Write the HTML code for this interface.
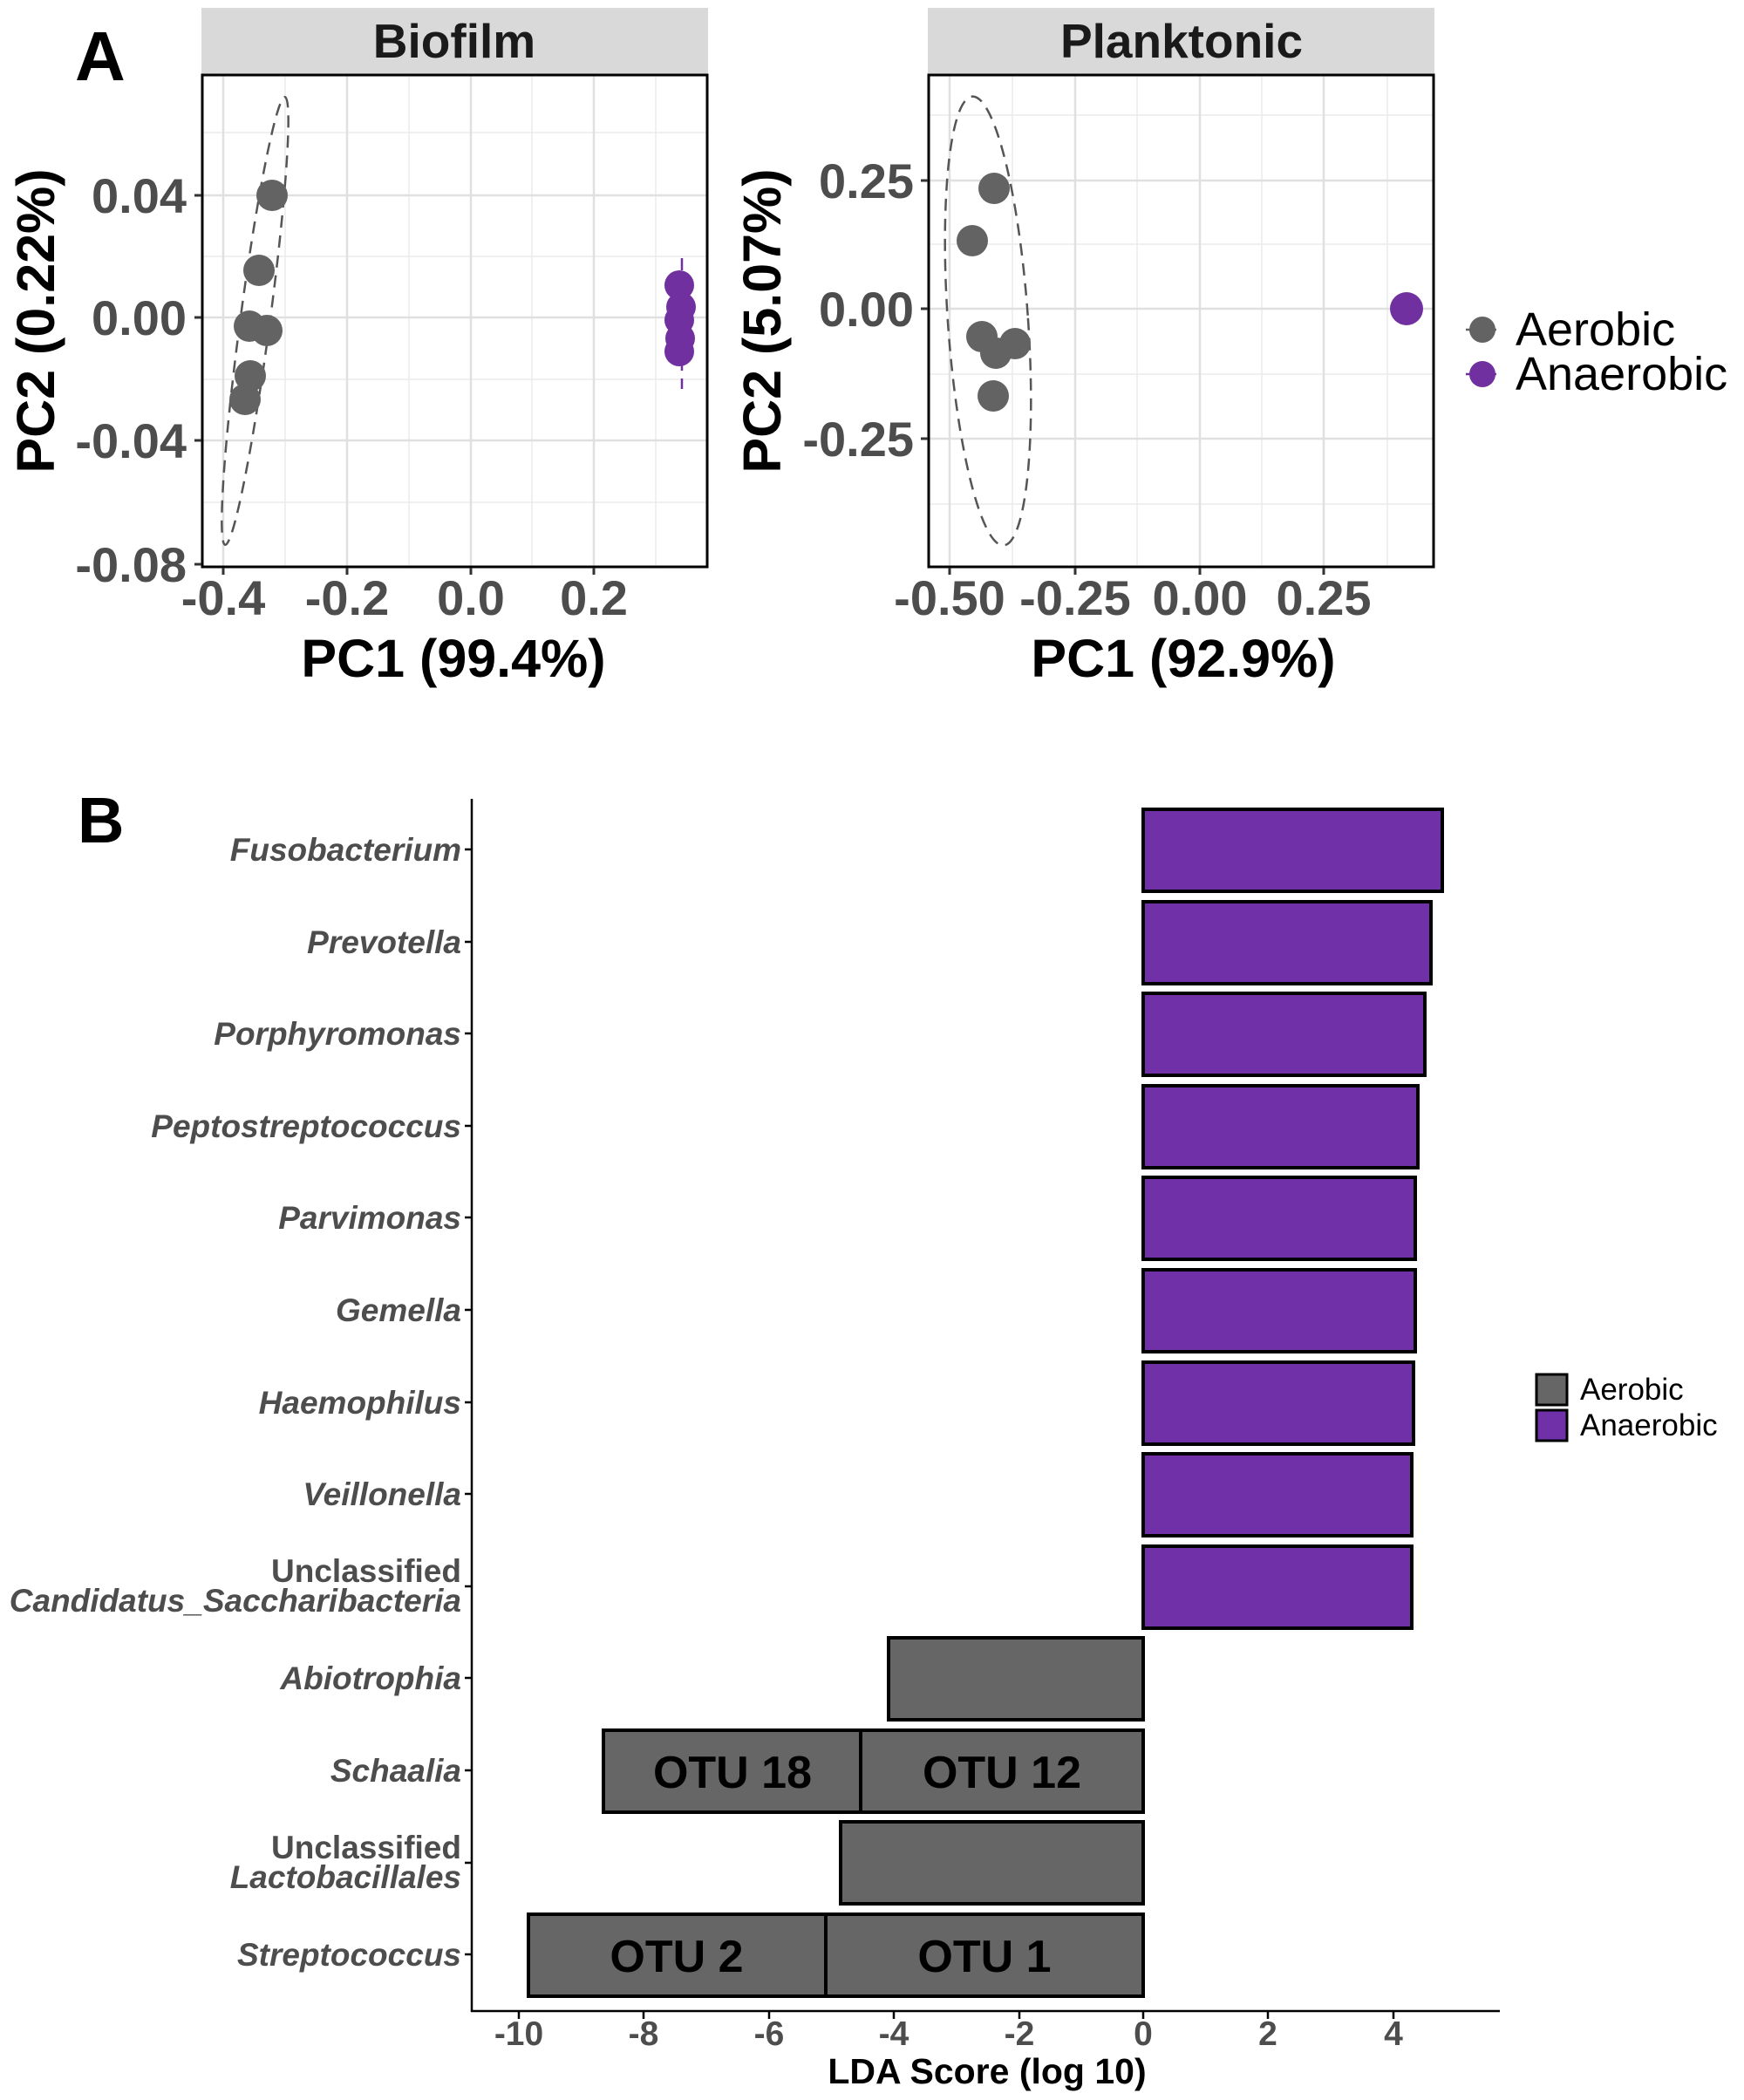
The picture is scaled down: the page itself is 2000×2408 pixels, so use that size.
<!DOCTYPE html>
<html><head><meta charset="utf-8"><style>
html,body{margin:0;padding:0;background:#fff}
svg{display:block}
text{font-family:"Liberation Sans",Arial,sans-serif}
</style></head><body>
<svg width="2000" height="2408" viewBox="0 0 2000 2408" xmlns="http://www.w3.org/2000/svg">
<rect width="2000" height="2408" fill="#fff"/>
<text x="86" y="92" font-size="80" font-weight="bold" fill="#000">A</text>

<rect x="231" y="9" width="581" height="76" fill="#d9d9d9"/>
<text x="521" y="66" font-size="55" font-weight="bold" text-anchor="middle" fill="#1a1a1a">Biofilm</text>
<g stroke="#ebebeb" stroke-width="1.5">
<line x1="327" y1="86" x2="327" y2="650"/><line x1="469" y1="86" x2="469" y2="650"/><line x1="610" y1="86" x2="610" y2="650"/><line x1="752" y1="86" x2="752" y2="650"/>
<line x1="232" y1="152" x2="811" y2="152"/><line x1="232" y1="294" x2="811" y2="294"/><line x1="232" y1="435" x2="811" y2="435"/><line x1="232" y1="576" x2="811" y2="576"/>
</g>
<g stroke="#e0e0e0" stroke-width="2.5">
<line x1="256" y1="86" x2="256" y2="650"/><line x1="398" y1="86" x2="398" y2="650"/><line x1="540" y1="86" x2="540" y2="650"/><line x1="681" y1="86" x2="681" y2="650"/>
<line x1="232" y1="224" x2="811" y2="224"/><line x1="232" y1="364" x2="811" y2="364"/><line x1="232" y1="505" x2="811" y2="505"/>
</g>
<ellipse cx="292.5" cy="368" rx="17" ry="259" transform="rotate(7.6 292.5 368)" fill="none" stroke="#555" stroke-width="2.5" stroke-dasharray="14 9"/>
<line x1="782" y1="296" x2="782" y2="446" stroke="#7030a0" stroke-width="2.5" stroke-dasharray="14 9"/>
<g fill="#636363">
<circle cx="312" cy="224" r="18"/><circle cx="297" cy="310" r="18"/><circle cx="286" cy="374" r="18"/><circle cx="306" cy="379" r="18"/><circle cx="287" cy="431" r="18"/><circle cx="281" cy="458" r="18"/>
</g>
<g fill="#7030a0">
<circle cx="779" cy="327" r="17"/><circle cx="781" cy="352" r="17"/><circle cx="779" cy="367" r="17"/><circle cx="780" cy="388" r="17"/><circle cx="779" cy="403" r="17"/>
</g>
<rect x="232" y="86" width="579" height="564" fill="none" stroke="#000" stroke-width="3"/>
<g stroke="#333" stroke-width="3">
<line x1="223" y1="224" x2="231" y2="224"/><line x1="223" y1="364" x2="231" y2="364"/><line x1="223" y1="505" x2="231" y2="505"/><line x1="223" y1="647" x2="231" y2="647"/>
<line x1="256" y1="651" x2="256" y2="659"/><line x1="398" y1="651" x2="398" y2="659"/><line x1="540" y1="651" x2="540" y2="659"/><line x1="681" y1="651" x2="681" y2="659"/>
</g>
<g font-size="56" font-weight="bold" fill="#4d4d4d" text-anchor="end">
<text x="214" y="244">0.04</text><text x="214" y="384">0.00</text><text x="214" y="525">-0.04</text><text x="214" y="667">-0.08</text>
</g>
<g font-size="56" font-weight="bold" fill="#4d4d4d" text-anchor="middle">
<text x="256" y="705">-0.4</text><text x="398" y="705">-0.2</text><text x="540" y="705">0.0</text><text x="681" y="705">0.2</text>
</g>
<text x="520" y="776" font-size="61" font-weight="bold" text-anchor="middle" fill="#000">PC1 (99.4%)</text>
<text transform="translate(62 368) rotate(-90)" font-size="61" font-weight="bold" text-anchor="middle" fill="#000">PC2 (0.22%)</text>

<rect x="1064" y="9" width="581" height="76" fill="#d9d9d9"/>
<text x="1355" y="66" font-size="55" font-weight="bold" text-anchor="middle" fill="#1a1a1a">Planktonic</text>
<g stroke="#ebebeb" stroke-width="1.5">
<line x1="1161" y1="86" x2="1161" y2="650"/><line x1="1304" y1="86" x2="1304" y2="650"/><line x1="1447" y1="86" x2="1447" y2="650"/><line x1="1591" y1="86" x2="1591" y2="650"/>
<line x1="1065" y1="132" x2="1644" y2="132"/><line x1="1065" y1="280" x2="1644" y2="280"/><line x1="1065" y1="429" x2="1644" y2="429"/><line x1="1065" y1="578" x2="1644" y2="578"/>
</g>
<g stroke="#e0e0e0" stroke-width="2.5">
<line x1="1089" y1="86" x2="1089" y2="650"/><line x1="1233" y1="86" x2="1233" y2="650"/><line x1="1376" y1="86" x2="1376" y2="650"/><line x1="1518" y1="86" x2="1518" y2="650"/>
<line x1="1065" y1="207" x2="1644" y2="207"/><line x1="1065" y1="354" x2="1644" y2="354"/><line x1="1065" y1="503" x2="1644" y2="503"/>
</g>
<ellipse cx="1133" cy="368" rx="46" ry="258" transform="rotate(-4 1133 368)" fill="none" stroke="#555" stroke-width="2.5" stroke-dasharray="14 9"/>
<g fill="#636363">
<circle cx="1140" cy="216" r="18"/><circle cx="1115" cy="276" r="18"/><circle cx="1126" cy="386" r="18"/><circle cx="1164" cy="394" r="18"/><circle cx="1142" cy="405" r="18"/><circle cx="1139" cy="454" r="18"/>
</g>
<circle cx="1613" cy="354" r="19" fill="#7030a0"/>
<rect x="1065" y="86" width="579" height="564" fill="none" stroke="#000" stroke-width="3"/>
<g stroke="#333" stroke-width="3">
<line x1="1056" y1="207" x2="1064" y2="207"/><line x1="1056" y1="354" x2="1064" y2="354"/><line x1="1056" y1="503" x2="1064" y2="503"/>
<line x1="1089" y1="651" x2="1089" y2="659"/><line x1="1233" y1="651" x2="1233" y2="659"/><line x1="1376" y1="651" x2="1376" y2="659"/><line x1="1518" y1="651" x2="1518" y2="659"/>
</g>
<g font-size="56" font-weight="bold" fill="#4d4d4d" text-anchor="end">
<text x="1048" y="227">0.25</text><text x="1048" y="374">0.00</text><text x="1048" y="523">-0.25</text>
</g>
<g font-size="56" font-weight="bold" fill="#4d4d4d" text-anchor="middle">
<text x="1089" y="705">-0.50</text><text x="1233" y="705">-0.25</text><text x="1376" y="705">0.00</text><text x="1518" y="705">0.25</text>
</g>
<text x="1357" y="776" font-size="61" font-weight="bold" text-anchor="middle" fill="#000">PC1 (92.9%)</text>
<text transform="translate(895 368) rotate(-90)" font-size="61" font-weight="bold" text-anchor="middle" fill="#000">PC2 (5.07%)</text>

<line x1="1681" y1="378" x2="1716" y2="378" stroke="#636363" stroke-width="2.5"/>
<circle cx="1700" cy="378" r="15" fill="#636363"/>
<line x1="1681" y1="429" x2="1716" y2="429" stroke="#7030a0" stroke-width="2.5"/>
<circle cx="1700" cy="429" r="15" fill="#7030a0"/>
<text x="1738" y="396" font-size="54" fill="#000">Aerobic</text>
<text x="1738" y="447" font-size="54" fill="#000">Anaerobic</text>

<text x="89" y="966" font-size="74" font-weight="bold" fill="#000">B</text>
<line x1="541" y1="916" x2="541" y2="2307" stroke="#000" stroke-width="2.5"/>
<line x1="540" y1="2306" x2="1720" y2="2306" stroke="#000" stroke-width="2.5"/>
<g stroke="#000" stroke-width="4">
<rect x="1311" y="928" width="343" height="94" fill="#7030a8"/>
<rect x="1311" y="1034" width="330" height="94" fill="#7030a8"/>
<rect x="1311" y="1139" width="323" height="94" fill="#7030a8"/>
<rect x="1311" y="1245" width="315" height="94" fill="#7030a8"/>
<rect x="1311" y="1350" width="312" height="94" fill="#7030a8"/>
<rect x="1311" y="1456" width="312" height="94" fill="#7030a8"/>
<rect x="1311" y="1562" width="310" height="94" fill="#7030a8"/>
<rect x="1311" y="1667" width="308" height="94" fill="#7030a8"/>
<rect x="1311" y="1773" width="308" height="94" fill="#7030a8"/>
<rect x="1019" y="1878" width="292" height="94" fill="#666666"/>
<rect x="692" y="1984" width="295" height="94" fill="#666666"/>
<rect x="987" y="1984" width="324" height="94" fill="#666666"/>
<rect x="964" y="2089" width="347" height="94" fill="#666666"/>
<rect x="606" y="2195" width="341" height="94" fill="#666666"/>
<rect x="947" y="2195" width="364" height="94" fill="#666666"/>
</g>
<g font-size="52" font-weight="bold" fill="#000" text-anchor="middle">
<text x="840" y="2050">OTU 18</text><text x="1149" y="2050">OTU 12</text>
<text x="776" y="2261">OTU 2</text><text x="1129" y="2261">OTU 1</text>
</g>
<g stroke="#000" stroke-width="2.5">
<line x1="533" y1="974" x2="541" y2="974"/><line x1="533" y1="1080" x2="541" y2="1080"/><line x1="533" y1="1185" x2="541" y2="1185"/><line x1="533" y1="1291" x2="541" y2="1291"/><line x1="533" y1="1396" x2="541" y2="1396"/><line x1="533" y1="1502" x2="541" y2="1502"/><line x1="533" y1="1608" x2="541" y2="1608"/><line x1="533" y1="1713" x2="541" y2="1713"/><line x1="533" y1="1819" x2="541" y2="1819"/><line x1="533" y1="1924" x2="541" y2="1924"/><line x1="533" y1="2030" x2="541" y2="2030"/><line x1="533" y1="2136" x2="541" y2="2136"/><line x1="533" y1="2241" x2="541" y2="2241"/>
<line x1="595" y1="2307" x2="595" y2="2315"/><line x1="738" y1="2307" x2="738" y2="2315"/><line x1="882" y1="2307" x2="882" y2="2315"/><line x1="1025" y1="2307" x2="1025" y2="2315"/><line x1="1169" y1="2307" x2="1169" y2="2315"/><line x1="1311" y1="2307" x2="1311" y2="2315"/><line x1="1454" y1="2307" x2="1454" y2="2315"/><line x1="1598" y1="2307" x2="1598" y2="2315"/>
</g>
<g font-size="37" font-weight="bold" font-style="italic" fill="#4d4d4d" text-anchor="end">
<text x="529" y="987">Fusobacterium</text>
<text x="529" y="1093">Prevotella</text>
<text x="529" y="1198">Porphyromonas</text>
<text x="529" y="1304">Peptostreptococcus</text>
<text x="529" y="1409">Parvimonas</text>
<text x="529" y="1515">Gemella</text>
<text x="529" y="1621">Haemophilus</text>
<text x="529" y="1726">Veillonella</text>
<text x="529" y="1848">Candidatus_Saccharibacteria</text>
<text x="529" y="1937">Abiotrophia</text>
<text x="529" y="2043">Schaalia</text>
<text x="529" y="2165">Lactobacillales</text>
<text x="529" y="2254">Streptococcus</text>
</g>
<g font-size="37" font-weight="bold" fill="#4d4d4d" text-anchor="end">
<text x="529" y="1814">Unclassified</text>
<text x="529" y="2131">Unclassified</text>
</g>
<g font-size="39" font-weight="bold" fill="#4d4d4d" text-anchor="middle">
<text x="595" y="2345">-10</text><text x="738" y="2345">-8</text><text x="882" y="2345">-6</text><text x="1025" y="2345">-4</text><text x="1169" y="2345">-2</text><text x="1311" y="2345">0</text><text x="1454" y="2345">2</text><text x="1598" y="2345">4</text>
</g>
<text x="1132" y="2389" font-size="41" font-weight="bold" text-anchor="middle" fill="#000">LDA Score (log 10)</text>

<rect x="1762" y="1576" width="35" height="35" fill="#666666" stroke="#000" stroke-width="3"/>
<rect x="1762" y="1617" width="35" height="35" fill="#7030a8" stroke="#000" stroke-width="3"/>
<text x="1812" y="1605" font-size="35" fill="#000">Aerobic</text>
<text x="1812" y="1646" font-size="35" fill="#000">Anaerobic</text>
</svg>
</body></html>
